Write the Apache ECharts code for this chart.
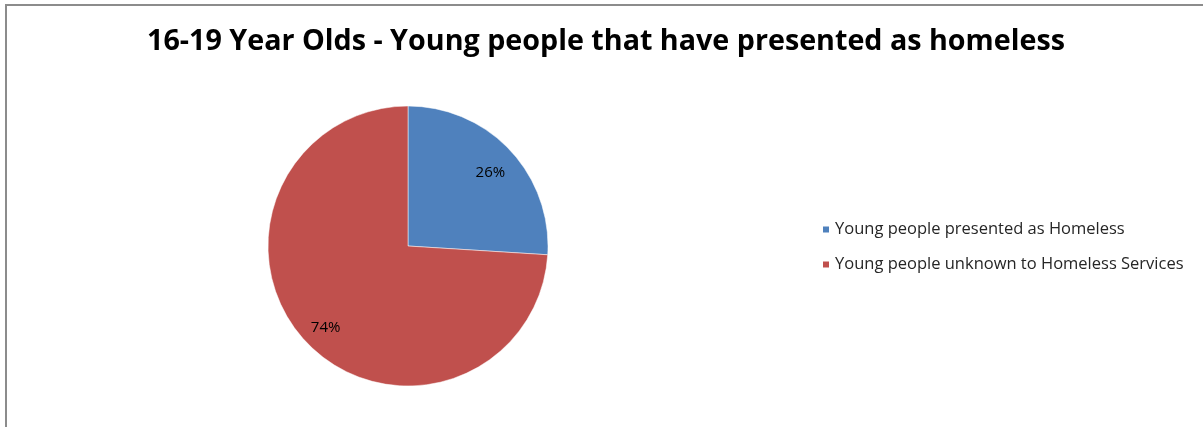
<!DOCTYPE html>
<html><head><meta charset="utf-8">
<script src="https://cdn.jsdelivr.net/npm/echarts@6/dist/echarts.min.js"></script>
<style>
html,body{margin:0;padding:0;background:#fff;overflow:hidden}
#frame{position:absolute;left:5px;top:4px;width:1300px;height:500px;border-left:2px solid #8c8c8c;border-top:2px solid #8c8c8c;}
#c{position:absolute;left:0;top:0;width:1203px;height:427px}
</style></head>
<body>
<div id="frame"></div>
<div id="c"></div>
<script>
const titleText = "16-19 Year Olds - Young people that have presented as homeless";
const categories = ["Young people presented as Homeless", "Young people unknown to Homeless Services"];
const values = [26, 74];
const colors = ["#4F81BD", "#C0504D"];

const data = categories.map((n, i) => ({ name: n, value: values[i], itemStyle: { color: colors[i] } }));
const chart = echarts.init(document.getElementById('c'), null, { renderer: 'canvas' });
chart.setOption({
  animation: false,
  title: {
    text: titleText, left: 601, top: 22, textAlign: 'center',
    textStyle: { fontFamily: 'Open Sans', fontWeight: 'bold', fontSize: 28.7, color: '#000' }
  },
  legend: {
    orient: 'vertical', left: 816, top: 216,
    data: categories, itemWidth: 8, itemHeight: 8, itemGap: 18, icon: 'rect',
    textStyle: { fontFamily: 'Open Sans', fontSize: 16.5, color: '#262626' }
  },
  series: [{
    type: 'pie', center: [408, 246], radius: [0, 140], startAngle: 90, clockwise: true,
    label: { show: false }, labelLine: { show: false },
    itemStyle: { borderColor: '#fff', borderWidth: 0.5 },
    data: data
  }, {
    type: 'pie', center: [408, 246], radius: [80, 140], startAngle: 90, clockwise: true,
    silent: true, legendHoverLink: false,
    itemStyle: { color: 'transparent', borderWidth: 0 },
    label: { show: true, position: 'inside', formatter: '{d}%', offset: [0, 4],
      fontFamily: 'Open Sans', fontSize: 15, color: '#000' },
    labelLine: { show: false },
    data: categories.map((n, i) => ({ name: n, value: values[i], itemStyle: { color: 'transparent' } }))
  }]
});
</script>
</body></html>
